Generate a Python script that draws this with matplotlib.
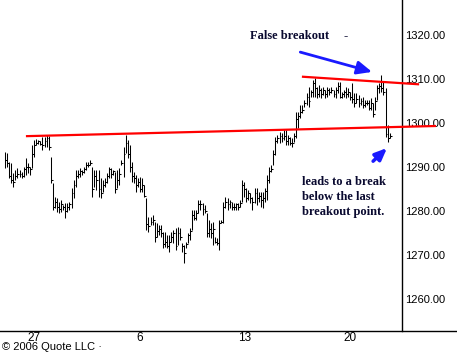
import matplotlib
matplotlib.use("Agg")
import matplotlib.pyplot as plt
from matplotlib.lines import Line2D

# hourly HLC bars
highs = [
    1293.4, 1293.2, 1291.1, 1290.9, 1288.6, 1289.3, 1289.8, 1289.3, 1288.9, 1290.0,
    1292.0, 1290.9, 1290.0, 1295.0, 1296.1, 1296.4, 1296.1, 1295.9, 1296.8, 1296.8,
    1297.3, 1297.0, 1292.3, 1286.4, 1283.2, 1283.0, 1282.0, 1282.5, 1281.4, 1281.8,
    1281.8, 1282.0, 1285.2, 1287.0, 1289.3, 1289.3, 1289.8, 1289.3, 1290.0, 1291.1,
    1291.1, 1291.6, 1290.0, 1289.3, 1289.3, 1289.3, 1287.5, 1287.0, 1287.5, 1288.6,
    1290.0, 1289.8, 1289.3, 1288.9, 1289.3, 1289.8, 1291.6, 1294.5, 1297.3, 1296.1,
    1295.0, 1291.1, 1288.9, 1288.2, 1287.5, 1287.7, 1287.5, 1285.9, 1283.0, 1278.6,
    1278.6, 1279.1, 1277.5, 1277.3, 1276.8, 1276.8, 1275.2, 1275.2, 1274.5, 1274.5,
    1275.2, 1275.7, 1276.1, 1276.4, 1276.1, 1272.7, 1272.3, 1273.0, 1275.0, 1276.1,
    1280.2, 1280.2, 1280.2, 1282.5, 1282.5, 1281.8, 1281.4, 1279.5, 1277.9, 1277.3,
    1277.5, 1274.1, 1273.9, 1277.9, 1277.9, 1282.0, 1283.2, 1283.0, 1282.5, 1282.0,
    1281.8, 1281.8, 1281.8, 1282.5, 1287.0, 1286.6, 1285.2, 1284.8, 1284.1, 1283.2,
    1285.2, 1285.2, 1284.3, 1284.3, 1284.3, 1285.2, 1288.2, 1290.0, 1290.5, 1293.9,
    1296.8, 1297.3, 1298.0, 1297.7, 1298.4, 1298.4, 1297.3, 1296.8, 1296.6, 1297.7,
    1302.5, 1302.5, 1304.1, 1304.1, 1305.2, 1306.8, 1308.2, 1307.5, 1309.8, 1310.2,
    1308.2, 1308.6, 1307.9, 1308.2, 1307.5, 1308.2, 1307.9, 1308.2, 1307.5, 1308.2,
    1309.3, 1309.3, 1307.0, 1307.5, 1308.2, 1307.9, 1307.0, 1309.1, 1306.8, 1306.8,
    1306.4, 1305.7, 1305.9, 1305.2, 1305.2, 1305.2, 1305.7, 1304.5, 1305.9, 1308.6,
    1309.1, 1310.9, 1309.3, 1307.9, 1299.5, 1297.7,
]
lows = [
    1289.8, 1290.0, 1287.5, 1286.4, 1285.5, 1287.0, 1287.5, 1287.7, 1287.5, 1287.7,
    1288.2, 1288.6, 1288.2, 1289.8, 1292.3, 1295.0, 1295.2, 1295.0, 1293.9, 1294.5,
    1294.5, 1293.9, 1286.4, 1280.2, 1280.7, 1279.8, 1279.5, 1279.8, 1280.2, 1278.4,
    1279.8, 1280.2, 1280.7, 1283.0, 1285.5, 1287.5, 1287.7, 1288.2, 1288.6, 1289.3,
    1290.0, 1290.5, 1283.2, 1285.5, 1284.8, 1283.2, 1283.0, 1284.3, 1285.5, 1286.4,
    1287.5, 1287.5, 1288.2, 1284.1, 1285.2, 1285.9, 1290.5, 1287.7, 1293.2, 1292.0,
    1288.9, 1286.6, 1286.4, 1284.3, 1285.5, 1284.3, 1284.3, 1283.2, 1275.7, 1275.2,
    1276.8, 1276.8, 1273.0, 1274.1, 1274.5, 1274.1, 1271.6, 1271.8, 1271.6, 1270.7,
    1273.0, 1272.7, 1271.1, 1272.3, 1273.4, 1270.7, 1268.2, 1271.6, 1272.7, 1273.4,
    1275.7, 1277.9, 1277.9, 1279.5, 1280.2, 1279.1, 1279.5, 1274.1, 1274.1, 1273.9,
    1272.3, 1272.7, 1272.3, 1271.1, 1277.3, 1277.3, 1280.7, 1280.2, 1280.7, 1280.2,
    1280.2, 1280.2, 1280.2, 1280.9, 1282.0, 1283.2, 1282.0, 1282.5, 1281.8, 1280.2,
    1281.8, 1281.4, 1282.0, 1280.9, 1280.7, 1282.0, 1282.5, 1286.4, 1288.9, 1290.5,
    1292.7, 1295.5, 1295.5, 1295.7, 1296.1, 1295.0, 1295.0, 1295.0, 1294.5, 1295.7,
    1296.6, 1298.9, 1301.1, 1302.3, 1303.6, 1304.1, 1303.6, 1305.9, 1305.9, 1305.9,
    1305.7, 1305.9, 1305.7, 1306.4, 1305.7, 1305.9, 1306.4, 1306.8, 1305.9, 1305.7,
    1306.8, 1305.7, 1305.7, 1305.9, 1305.7, 1305.9, 1305.2, 1304.5, 1303.6, 1304.5,
    1303.6, 1304.1, 1303.4, 1303.6, 1304.1, 1303.0, 1303.0, 1301.3, 1303.0, 1305.2,
    1306.8, 1307.0, 1306.4, 1296.8, 1295.7, 1296.6,
]
closes = [
    1291.5, 1291.0, 1288.0, 1287.0, 1286.5, 1288.0, 1288.5, 1288.5, 1288.0, 1289.5,
    1290.0, 1290.0, 1289.5, 1293.0, 1295.0, 1295.5, 1295.8, 1295.2, 1295.0, 1296.0,
    1296.5, 1294.5, 1287.0, 1281.0, 1282.0, 1281.0, 1280.5, 1281.5, 1280.8, 1280.0,
    1281.0, 1281.5, 1284.0, 1286.0, 1288.0, 1288.5, 1289.0, 1288.8, 1289.5, 1290.5,
    1290.5, 1291.0, 1285.0, 1288.0, 1287.0, 1285.0, 1284.0, 1286.0, 1286.5, 1288.0,
    1289.5, 1288.5, 1289.0, 1285.0, 1287.0, 1288.5, 1291.0, 1293.0, 1295.5, 1293.0,
    1290.0, 1288.0, 1287.5, 1286.0, 1286.5, 1285.0, 1286.0, 1283.5, 1277.0, 1276.5,
    1277.5, 1278.0, 1274.0, 1275.5, 1276.0, 1275.0, 1272.5, 1273.0, 1272.0, 1273.0,
    1274.0, 1275.0, 1272.0, 1275.0, 1274.0, 1272.0, 1270.5, 1272.5, 1274.5, 1275.5,
    1279.0, 1278.5, 1279.5, 1281.5, 1281.5, 1280.5, 1280.0, 1275.0, 1276.0, 1275.0,
    1276.0, 1273.0, 1272.7, 1277.3, 1277.5, 1281.0, 1282.0, 1281.5, 1282.0, 1281.0,
    1281.0, 1281.5, 1280.8, 1281.8, 1286.0, 1285.0, 1283.0, 1284.0, 1283.0, 1282.0,
    1284.0, 1283.0, 1283.5, 1282.5, 1283.0, 1284.5, 1287.0, 1289.0, 1289.5, 1293.0,
    1296.0, 1296.5, 1297.0, 1296.5, 1297.0, 1296.0, 1296.5, 1295.5, 1295.5, 1297.0,
    1301.0, 1301.5, 1302.5, 1303.0, 1304.5, 1306.0, 1305.0, 1307.0, 1309.0, 1308.0,
    1306.5, 1307.5, 1306.5, 1307.5, 1306.5, 1307.5, 1307.0, 1307.5, 1306.5, 1307.5,
    1308.5, 1306.0, 1306.5, 1307.0, 1306.5, 1307.0, 1306.0, 1305.5, 1304.5, 1305.5,
    1304.5, 1305.0, 1304.0, 1304.5, 1304.5, 1303.5, 1304.5, 1302.0, 1305.0, 1308.0,
    1308.5, 1308.0, 1307.0, 1297.5, 1296.5, 1297.0,
]

day_ticks = [14, 65, 115, 166]          # bar index of each Monday open
day_labels = ["27", "6", "13", "20"]
price_ticks = [1260, 1270, 1280, 1290, 1300, 1310, 1320]

# hand-drawn trend lines (bar index, price)
support_x = [10.6, 206.7]
support_y = [1297.0, 1299.3]
top_x = [143.3, 198.6]
top_y = [1310.5, 1308.8]

W, H = 457, 352
fig = plt.figure(figsize=(W / 100, H / 100), dpi=100)
ax = fig.add_axes([0, 21 / H, 402 / W, 1 - 21 / H])

idx = list(range(len(highs)))
ax.vlines(idx, lows, highs, color="black", lw=0.75)
ax.hlines(closes, idx, [i + 0.9 for i in idx], color="black", lw=0.75)

ax.plot(support_x, support_y, color="#ff0000", lw=1.6, clip_on=False, zorder=4)
ax.plot(top_x, top_y, color="#ff0000", lw=1.6, clip_on=False, zorder=4)

ax.set_xlim(-2.4, 190.9)
ax.set_ylim(1252.7, 1327.95)

ax.yaxis.tick_right()
ax.set_yticks(price_ticks)
ax.set_yticklabels([f"{p:.2f}" for p in price_ticks], fontsize=8,
                   family="Liberation Sans")
ax.set_xticks(day_ticks)
ax.set_xticklabels(day_labels, fontsize=8.5, family="Liberation Sans")
ax.tick_params(axis="y", length=0, pad=2)
ax.tick_params(axis="x", length=0, pad=1)
for s in ["top", "left", "bottom"]:
    ax.spines[s].set_visible(False)
ax.spines["right"].set_linewidth(1)

# bottom rule runs the full width of the picture
fig.add_artist(Line2D([0, 1], [21 / H, 21 / H], color="black", lw=1,
                      transform=fig.transFigure))

txt = "#0a0a30"
serif = "Liberation Serif"
ax.annotate("", xy=(176.5, 1311.6), xytext=(142, 1316.1),
            arrowprops=dict(arrowstyle="-|>,head_length=0.9,head_width=0.4",
                            color="#1a1aff", lw=2, shrinkA=0, shrinkB=0),
            annotation_clip=False)
ax.annotate("", xy=(183.7, 1294.3), xytext=(177.0, 1291.3),
            arrowprops=dict(arrowstyle="-|>,head_length=0.7,head_width=0.3",
                            color="#1a1aff", lw=2.5, shrinkA=0, shrinkB=0),
            annotation_clip=False)

fig.text(250 / W, 1 - 36 / H, "False breakout", fontsize=9, fontweight="bold",
         family=serif, color=txt, va="center")
fig.text(344 / W, 1 - 36 / H, "-", fontsize=9, fontweight="bold",
         family=serif, color=txt, va="center")
fig.text(302 / W, 1 - 176 / H, "leads to a break\nbelow the last\nbreakout point.",
         fontsize=9, fontweight="bold", family=serif, color=txt, va="top",
         linespacing=1.35)
fig.text(2 / W, 0, "\u00a9 2006 Quote LLC \u00b7", fontsize=8,
         family="Liberation Sans", va="bottom")

fig.savefig("out.png", dpi=100)
